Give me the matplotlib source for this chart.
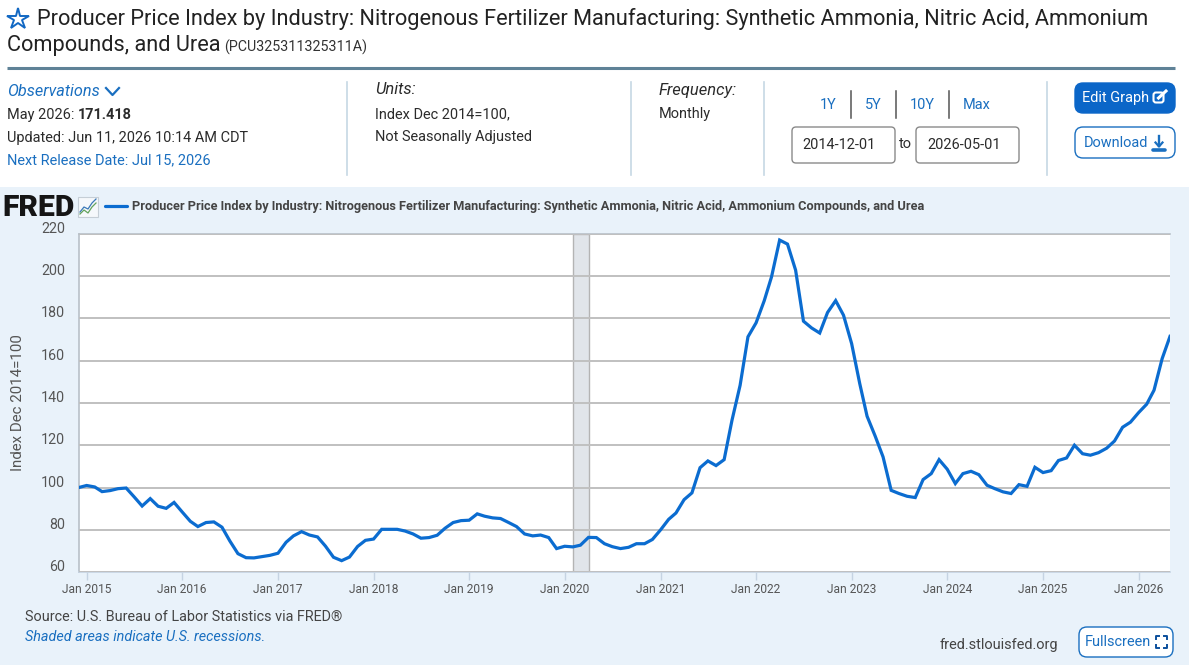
"""
FRED page for the nitrogenous fertilizer producer price index
"""
import matplotlib
matplotlib.use('Agg')
import matplotlib.pyplot as plt
import matplotlib.dates as mdates
import pandas as pd
from matplotlib.patches import FancyBboxPatch, Rectangle
from matplotlib.transforms import ScaledTranslation

plt.rcParams['font.family'] = ['Roboto', 'DejaVu Sans']

# monthly values, Dec 2014 to May 2026
values_2015 = [100.0, 101.0, 100.3, 98.1, 98.6, 99.5, 99.8, 95.7, 91.3, 94.8, 91.2, 90.2, 93.0]
values_2016 = [88.5, 84.1, 81.6, 83.5, 83.8, 81.3, 74.8, 68.8, 66.9, 66.8, 67.4, 68.0]
values_2017 = [69.0, 74.2, 77.2, 79.2, 77.6, 76.7, 72.4, 67.1, 65.5, 67.2, 72.2, 75.1]
values_2018 = [75.7, 80.3, 80.3, 80.3, 79.5, 78.1, 76.1, 76.4, 77.5, 80.8, 83.5, 84.4]
values_2019 = [84.6, 87.6, 86.5, 85.7, 85.4, 83.5, 81.6, 78.1, 77.2, 77.6, 76.4, 71.2]
values_2020 = [72.3, 72.0, 72.8, 76.5, 76.4, 73.5, 72.1, 71.2, 71.8, 73.5, 73.5, 75.5]
values_2021 = [80.0, 85.0, 88.0, 94.3, 97.5, 109.4, 112.6, 110.4, 113.2, 131.8, 148.3, 171.2]
values_2022 = [177.8, 188.2, 199.5, 216.9, 215.0, 202.7, 178.6, 175.4, 173.0, 182.7, 188.3, 181.4]
values_2023 = [168.0, 149.1, 133.7, 124.3, 114.5, 98.7, 97.2, 95.9, 95.3, 103.8, 106.6, 113.2]
values_2024 = [108.7, 101.9, 106.6, 107.7, 106.1, 101.1, 99.5, 98.0, 97.2, 101.4, 100.6, 109.6]
values_2025 = [107.1, 108.0, 112.8, 114.0, 120.0, 116.0, 115.3, 116.5, 118.6, 122.0, 128.5, 130.9]
values_2026 = [135.4, 139.4, 146.0, 160.9, 171.418]
ppi_values = (values_2015 + values_2016 + values_2017 + values_2018 + values_2019 + values_2020
              + values_2021 + values_2022 + values_2023 + values_2024 + values_2025 + values_2026)
months = pd.date_range('2014-12-01', periods=len(ppi_values), freq='MS')

y_ticks = [60, 80, 100, 120, 140, 160, 180, 200, 220]
x_tick_years = list(range(2015, 2027))
recession_start = '2020-02-01'
recession_end = '2020-04-01'

BLUE = '#0b6cd0'
LINK = '#1a6fc0'
TEXT = '#2b2b2b'
GREY = '#555555'
PANEL = '#e9f2fa'
RULE = '#c6d8e4'

W, H = 1200, 665
fig = plt.figure(figsize=(W / 100, H / 100), dpi=100, facecolor='white')

# overlay in pixel coordinates for the page furniture
page = fig.add_axes([0, 0, 1, 1], zorder=0)
page.set_xlim(0, W)
page.set_ylim(H, 0)
page.axis('off')


def px(size):
    """pixel font size to points"""
    return size * 0.72


def label(x, y, text, size=14.5, color=TEXT, **kwargs):
    """text on the page overlay"""
    kwargs.setdefault('va', 'center')
    return page.text(x, y + 1, text, fontsize=px(size), color=color, **kwargs)


def button(x0, y0, x1, y1, face, edge, radius=7):
    """rounded box"""
    page.add_patch(FancyBboxPatch((x0 + radius, y0 + radius), x1 - x0 - 2 * radius, y1 - y0 - 2 * radius,
                                  boxstyle='round,pad=%d,rounding_size=%d' % (radius, radius),
                                  facecolor=face, edgecolor=edge, linewidth=1))


page.add_patch(Rectangle((0, 187), 1189, H - 187, facecolor=PANEL, edgecolor='none'))

# title block
page.plot([18], [19], marker='*', markersize=16, markerfacecolor='white',
          markeredgecolor='#1268c3', markeredgewidth=1.4)
label(37, 18, 'Producer Price Index by Industry: Nitrogenous Fertilizer Manufacturing: Synthetic Ammonia, '
      'Nitric Acid, Ammonium', size=21.74, color='#222222')
label(7, 45, 'Compounds, and Urea', size=21.74, color='#222222')
label(224, 46, '(PCU325311325311A)', size=14.2, color='#333333')
page.plot([7, 1175], [68, 68], color='#5f8297', lw=2.2, solid_capstyle='butt')

# observations column
label(7, 90, 'Observations', size=16.2, color=LINK, style='italic')
page.plot([106, 112.5, 119], [88, 95, 88], color=LINK, lw=1.6)
label(7, 114, 'May 2026: ', size=14.5)
label(78, 114, '171.418', size=14.5, weight='bold')
label(7, 137, 'Updated: Jun 11, 2026 10:14 AM CDT', size=14.5)
label(7, 159, 'Next Release Date: Jul 15, 2026', size=14.5, color=LINK)

for rule_x in [347, 631, 764, 1047]:
    page.plot([rule_x, rule_x], [82, 175], color=RULE, lw=1.2)

# units and frequency
label(375, 89, 'Units:', size=16.5, style='italic')
label(375, 113, 'Index Dec 2014=100,', size=14.5)
label(375, 136, 'Not Seasonally Adjusted', size=14.5)
label(659, 89, 'Frequency:', size=16.5, style='italic')
label(659, 113, 'Monthly', size=14.5)

# range links and date boxes
for link_x, link_text in [(828, '1Y'), (873, '5Y'), (922.5, '10Y'), (976.5, 'Max')]:
    label(link_x, 104, link_text, size=14.5, color=LINK, ha='center')
for sep_x in [851, 895.5, 948.5]:
    page.plot([sep_x, sep_x], [91, 118], color='#555555', lw=1.1)
button(792, 127, 895, 163, 'white', '#8a8a8a', radius=4)
button(916, 127, 1019, 163, 'white', '#8a8a8a', radius=4)
label(839, 144, '2014-12-01', size=14.5, ha='center')
label(905.5, 143, 'to', size=14.5, ha='center')
label(964, 144, '2026-05-01', size=14.5, ha='center')

# buttons
button(1075, 83, 1175, 113, '#0b66c8', '#0b66c8', radius=8)
label(1082.5, 97, 'Edit Graph', size=14.5, color='white')
page.add_patch(FancyBboxPatch((1155, 94), 7, 7, boxstyle='round,pad=1.5,rounding_size=2.5',
                              facecolor='none', edgecolor='white', lw=1.5))
page.plot([1158.5, 1166], [98, 91], color='white', lw=2.2)
button(1075, 127, 1175, 158, 'white', '#1a6fc0', radius=8)
label(1084, 142, 'Download', size=14.5, color=LINK)
page.plot([1159, 1159], [136, 146], color=LINK, lw=1.7)
page.plot([1155.5, 1159, 1162.5], [142.5, 146.5, 142.5], color=LINK, lw=1.6)
page.plot([1153, 1165], [149.5, 149.5], color=LINK, lw=2.6, solid_capstyle='round')

# FRED logo, chart icon and legend
label(2, 206.5, 'FRED', size=30, color='#151515', weight='black', family='Roboto')
page.add_patch(Rectangle((78, 197), 20, 19.5, facecolor='#f5f8fb', edgecolor='#c5ced6', lw=0.8))
page.plot([80, 84, 88, 92, 96], [212, 207, 209, 203, 199], color='#3a78b8', lw=0.9)
page.plot([80, 84, 88, 92, 96], [214, 210, 213, 207, 203], color='#63a35c', lw=0.9)
page.plot([105, 127], [206, 206], color=BLUE, lw=2.3, solid_capstyle='round')
label(132, 205.5, 'Producer Price Index by Industry: Nitrogenous Fertilizer Manufacturing: Synthetic Ammonia, '
      'Nitric Acid, Ammonium Compounds, and Urea', size=12.79, color='#444444', weight='bold')

# chart
left, right, top, bottom = 78.5, 1170, 233.5, 572.3
ax = fig.add_axes([left / W, 1 - bottom / H, (right - left) / W, (bottom - top) / H], zorder=1)
ax.set_facecolor('white')
ax.plot(months, ppi_values, color=BLUE, lw=2.3, solid_joinstyle='miter', zorder=3)
ax.axvspan(pd.Timestamp(recession_start), pd.Timestamp(recession_end), facecolor='#e1e5ea',
           edgecolor='#b4b4b4', lw=1, zorder=1)
ax.set_xlim(months[0], months[-1])
ax.set_ylim(y_ticks[0], y_ticks[-1])
ax.set_yticks(y_ticks)
ax.set_yticklabels([str(v) for v in y_ticks], va='bottom', fontsize=px(14.3), color=GREY)
ax.tick_params(axis='y', length=0, pad=9.5)
for tick_label in ax.get_yticklabels():
    tick_label.set_transform(tick_label.get_transform()
                             + ScaledTranslation(0, -1.5 / 72, fig.dpi_scale_trans))
ax.grid(axis='y', color='#c0c0c0', lw=1.4, zorder=2)
ax.set_axisbelow(False)
ax.set_xticks([mdates.date2num(pd.Timestamp(year, 1, 1)) for year in x_tick_years])
ax.set_xticklabels(['Jan %d' % year for year in x_tick_years], fontsize=px(12), color=GREY)
ax.tick_params(axis='x', length=6, width=1, color='#c5d3e2', pad=2)
for name, spine in ax.spines.items():
    spine.set_color('#b8c0c8')
    spine.set_linewidth(1.2)
ax.spines['bottom'].set_color('#c5d3e2')
ax.spines['right'].set_visible(False)
ax.set_ylabel('Index Dec 2014=100', fontsize=px(15), color=GREY)
ax.yaxis.set_label_coords((25 - left) / (right - left), 0.5)

# footer
label(25, 616, 'Source: U.S. Bureau of Labor Statistics via FRED®', size=14.45, color='#444444')
label(25, 636, 'Shaded areas indicate U.S. recessions.', size=14.45, color=LINK, style='italic')
label(940, 644, 'fred.stlouisfed.org', size=14.5, color='#444444')
button(1079, 627, 1173, 657, 'white', '#1a6fc0', radius=8)
label(1085, 641, 'Fullscreen', size=14.5, color=LINK)
for cx, cy, dx, dy in [(1156, 636, 1, 1), (1167, 636, -1, 1), (1156, 648, 1, -1), (1167, 648, -1, -1)]:
    page.plot([cx, cx, cx + 3 * dx], [cy + 3 * dy, cy, cy], color='#0b4f9c', lw=1.4)

fig.savefig('out.png', dpi=100, facecolor='white')
